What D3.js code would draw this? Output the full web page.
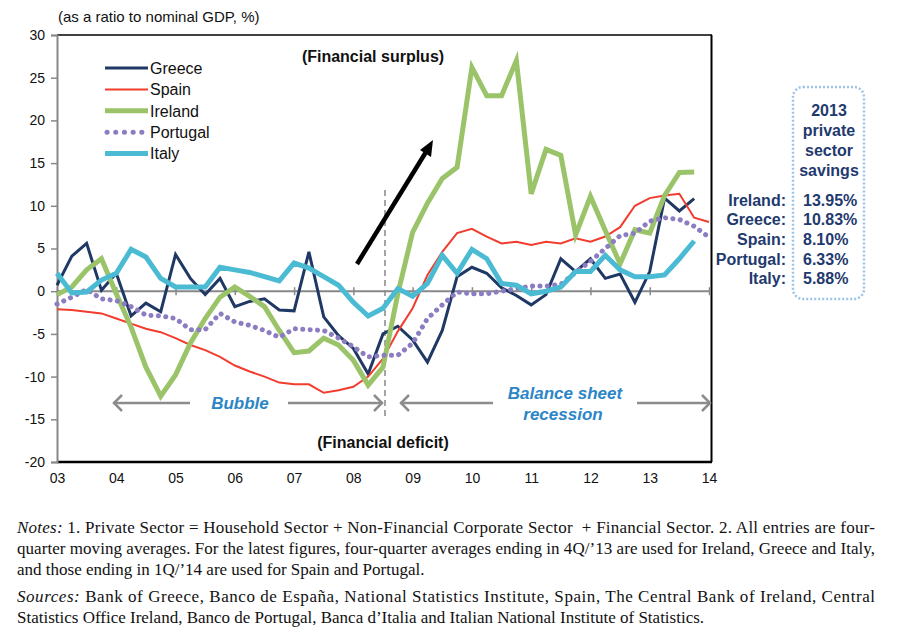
<!DOCTYPE html>
<html>
<head>
<meta charset="utf-8">
<script src="https://cdn.jsdelivr.net/npm/d3@7"></script>
<style>
  body { margin: 0; background: #fff; }
  svg text { font-family: Arial, "Liberation Sans", sans-serif; }
</style>
</head>
<body>
<svg id="chart" width="909" height="640"></svg>
<script>
// quarterly private sector financial balance, % of GDP, from 2003Q1
const greece   = [0.7,4.1,5.6,0.1,2.1,-2.9,-1.4,-2.4,4.3,1.5,-0.4,1.5,-1.8,-1.2,-0.9,-2.2,-2.3,4.6,-3.0,-5.2,-6.7,-9.7,-5.0,-4.1,-5.7,-8.3,-4.6,1.7,2.8,2.1,0.4,-0.5,-1.6,-0.4,3.8,2.3,3.8,1.5,2.0,-1.3,2.3,10.9,9.4,10.83];
const spain    = [-2.1,-2.2,-2.4,-2.6,-3.2,-3.8,-4.4,-4.8,-5.5,-6.3,-6.9,-7.7,-8.7,-9.4,-10.0,-10.7,-10.9,-10.9,-11.9,-11.6,-11.2,-10.0,-7.9,-4.7,-2.0,1.9,4.6,6.8,7.3,6.4,5.6,5.8,5.4,5.8,5.6,6.2,5.8,6.4,7.5,10.0,10.9,11.2,11.4,8.6,8.1];
const ireland  = [-0.4,0.5,2.5,3.8,-0.3,-4.2,-8.9,-12.3,-9.8,-6.1,-3.2,-0.7,0.5,-0.6,-1.8,-4.6,-7.2,-7.0,-5.5,-6.3,-8.1,-11.0,-8.9,-0.3,6.9,10.3,13.2,14.5,26.2,22.9,22.9,27.0,11.4,16.6,15.9,6.6,11.1,7.1,3.2,7.2,6.8,11.2,13.9,13.95];
const portugal = [-1.5,-0.7,0.2,-0.9,-1.1,-1.8,-2.8,-2.9,-3.2,-4.5,-4.5,-2.6,-3.6,-4.0,-4.6,-5.4,-4.4,-4.5,-4.6,-5.5,-6.5,-7.7,-7.5,-7.5,-6.1,-3.2,-1.6,-0.1,-0.3,-0.3,0.0,0.3,0.6,0.6,0.8,2.2,3.5,5.0,6.5,6.8,8.2,8.6,8.4,7.6,6.33];
const italy    = [2.1,-0.2,-0.1,1.3,2.1,4.9,4.0,1.5,0.5,0.5,0.5,2.8,2.5,2.2,1.7,1.2,3.3,2.7,1.7,0.7,-1.3,-2.9,-2.0,0.3,-0.6,0.9,4.2,2.1,4.9,3.8,0.9,0.7,-0.3,0.0,0.5,2.3,2.3,4.2,2.5,1.7,1.7,1.9,3.8,5.88];

const startYear = 2003;
const yearTicks = [2003,2004,2005,2006,2007,2008,2009,2010,2011,2012,2013,2014];
const yTicks = [-20,-15,-10,-5,0,5,10,15,20,25,30];
const lehmanYear = 2008.5;

const boxHeader = ["2013", "private", "sector", "savings"];
const boxNames  = ["Ireland:", "Greece:", "Spain:", "Portugal:", "Italy:"];
const boxValues = ["13.95%", "10.83%", "8.10%", "6.33%", "5.88%"];

const series = [
  { name: "Greece",   values: greece,   color: "#1f3864", width: 3 },
  { name: "Spain",    values: spain,    color: "#f23c2e", width: 2 },
  { name: "Ireland",  values: ireland,  color: "#9bc46a", width: 5 },
  { name: "Portugal", values: portugal, color: "#8c7cc2", width: 5, dots: true },
  { name: "Italy",    values: italy,    color: "#4bbbd4", width: 5 }
];

const svg = d3.select("#chart");

const x = d3.scaleLinear().domain([2003, 2014]).range([57, 709]);
const y = d3.scaleLinear().domain([-20, 30]).range([462, 35]);

// title
svg.append("text").attr("x", 58).attr("y", 22)
  .attr("font-size", 15).attr("fill", "#111")
  .text("(as a ratio to nominal GDP, %)");

// frame: top + right black, bottom thick black
svg.append("line").attr("x1", 57).attr("x2", 712).attr("y1", 35).attr("y2", 35)
  .attr("stroke", "#000").attr("stroke-width", 1.5);
svg.append("line").attr("x1", 711.5).attr("x2", 711.5).attr("y1", 35).attr("y2", 462)
  .attr("stroke", "#000").attr("stroke-width", 2);
svg.append("line").attr("x1", 57).attr("x2", 712).attr("y1", 462).attr("y2", 462)
  .attr("stroke", "#000").attr("stroke-width", 2.5);

// y axis
const yAxis = svg.append("g").attr("transform", "translate(57,0)")
  .call(d3.axisLeft(y).tickValues(yTicks).tickSize(6).tickPadding(6)
    .tickFormat(d => String(d)));
yAxis.select(".domain").attr("stroke", "#888").attr("stroke-width", 2);
yAxis.selectAll(".tick line").attr("stroke", "#888").attr("stroke-width", 1.5);
yAxis.selectAll(".tick text").attr("font-size", 14).attr("fill", "#111")
  .attr("font-family", "Arial, 'Liberation Sans', sans-serif");

// zero line with year ticks crossing it
const zeroAxis = svg.append("g").attr("transform", "translate(0," + (y(0) - 4) + ")")
  .call(d3.axisBottom(x).tickValues(yearTicks).tickSize(8).tickFormat(""));
zeroAxis.select(".domain").remove();
zeroAxis.selectAll(".tick line").attr("stroke", "#888").attr("stroke-width", 1.5);
svg.append("line").attr("x1", x(2003)).attr("x2", x(2014)).attr("y1", y(0)).attr("y2", y(0))
  .attr("stroke", "#888").attr("stroke-width", 2);

// year labels below chart
const xLabels = svg.append("g").attr("transform", "translate(0,462)")
  .call(d3.axisBottom(x).tickValues(yearTicks).tickSize(0).tickPadding(11)
    .tickFormat(d => String(d).slice(2)));
xLabels.select(".domain").remove();
xLabels.selectAll(".tick text").attr("font-size", 14).attr("fill", "#111")
  .attr("font-family", "Arial, 'Liberation Sans', sans-serif");

// Lehman dashed line
svg.append("line").attr("x1", x(lehmanYear) + 2).attr("x2", x(lehmanYear) + 2)
  .attr("y1", 190).attr("y2", 418)
  .attr("stroke", "#888").attr("stroke-width", 1.5).attr("stroke-dasharray", "6,4");

// series lines
const line = d3.line()
  .x((d, i) => x(startYear + i / 4))
  .y(d => y(d));

series.forEach(s => {
  const p = svg.append("path").datum(s.values)
    .attr("d", line)
    .attr("fill", "none")
    .attr("stroke", s.color)
    .attr("stroke-width", s.width)
    .attr("stroke-linejoin", "miter");
  if (s.dots) {
    p.attr("stroke-dasharray", "0.1,7.3").attr("stroke-linecap", "round");
  }
});

// legend
const legend = svg.append("g");
series.forEach((s, i) => {
  const ly = 68 + i * 21.4;
  const l = legend.append("line")
    .attr("x1", s.dots ? 107 : 105).attr("x2", s.dots ? 142 : 148)
    .attr("y1", ly).attr("y2", ly)
    .attr("stroke", s.color).attr("stroke-width", s.width);
  if (s.dots) l.attr("stroke-dasharray", "0.1,8.6").attr("stroke-linecap", "round");
  legend.append("text").attr("x", 150).attr("y", ly).attr("dy", "0.36em")
    .attr("font-size", 16).attr("fill", "#111").text(s.name);
});

// surplus / deficit labels
svg.append("text").attr("x", 373).attr("y", 62).attr("text-anchor", "middle")
  .attr("font-size", 16).attr("font-weight", "bold").attr("fill", "#111")
  .text("(Financial surplus)");
svg.append("text").attr("x", 383).attr("y", 448).attr("text-anchor", "middle")
  .attr("font-size", 16).attr("font-weight", "bold").attr("fill", "#111")
  .text("(Financial deficit)");

// black upward arrow
svg.append("line").attr("x1", 357).attr("y1", 264).attr("x2", 426).attr("y2", 152)
  .attr("stroke", "#000").attr("stroke-width", 4.5);
svg.append("polygon").attr("points", "433,140 420,150 431,157").attr("fill", "#000");

// grey phase arrows
function phaseArrow(x1, x2, gapL, gapR, yy) {
  const g = svg.append("g").attr("stroke", "#8c8c8c").attr("stroke-width", 2.5).attr("fill", "none");
  g.append("line").attr("x1", x1).attr("x2", gapL).attr("y1", yy).attr("y2", yy);
  g.append("line").attr("x1", gapR).attr("x2", x2).attr("y1", yy).attr("y2", yy);
  g.append("polyline").attr("points", `${x1 + 9},${yy - 8} ${x1 + 1},${yy} ${x1 + 9},${yy + 8}`);
  g.append("polyline").attr("points", `${x2 - 9},${yy - 8} ${x2 - 1},${yy} ${x2 - 9},${yy + 8}`);
}
phaseArrow(113, 383, 190, 288, 403);
phaseArrow(400, 711, 493, 637, 403);

const blue = "#2c85c6";
svg.append("text").attr("x", 240).attr("y", 409).attr("text-anchor", "middle")
  .attr("font-size", 17).attr("font-weight", "bold").attr("font-style", "italic")
  .attr("fill", blue).text("Bubble");
svg.append("text").attr("x", 565).attr("y", 399).attr("text-anchor", "middle")
  .attr("font-size", 17).attr("font-weight", "bold").attr("font-style", "italic")
  .attr("fill", blue).text("Balance sheet");
svg.append("text").attr("x", 563).attr("y", 420).attr("text-anchor", "middle")
  .attr("font-size", 17).attr("font-weight", "bold").attr("font-style", "italic")
  .attr("fill", blue).text("recession");

// right-hand savings box
const navy = "#1f3a6e";
svg.append("rect").attr("x", 793).attr("y", 87).attr("width", 71).attr("height", 212)
  .attr("rx", 10).attr("fill", "none").attr("stroke", "#9dc3e6")
  .attr("stroke-width", 2.5).attr("stroke-dasharray", "2,2");
boxHeader.forEach((t, i) => {
  svg.append("text").attr("x", 829).attr("y", 110 + i * 20).attr("dy", "0.36em")
    .attr("text-anchor", "middle").attr("font-size", 16).attr("font-weight", "bold")
    .attr("fill", navy).text(t);
});
boxNames.forEach((t, i) => {
  const yy = 200 + i * 19.6;
  svg.append("text").attr("x", 786).attr("y", yy).attr("dy", "0.36em")
    .attr("text-anchor", "end").attr("font-size", 16).attr("font-weight", "bold")
    .attr("fill", navy).text(t);
  svg.append("text").attr("x", 803).attr("y", yy).attr("dy", "0.36em")
    .attr("font-size", 16).attr("font-weight", "bold")
    .attr("fill", navy).text(boxValues[i]);
});

// notes and sources (serif, justified)
const notes = [
  { lead: "Notes:", text: " 1. Private Sector = Household Sector + Non-Financial Corporate Sector  + Financial Sector. 2. All entries are four-", y: 533, justify: true },
  { lead: "", text: "quarter moving averages. For the latest figures, four-quarter averages ending in 4Q/\u201913 are used for Ireland, Greece and Italy,", y: 554, justify: true },
  { lead: "", text: "and those ending in 1Q/\u201914 are used for Spain and Portugal.", y: 575, justify: false },
  { lead: "Sources:", text: " Bank of Greece, Banco de Espa\u00f1a, National Statistics Institute, Spain, The Central Bank of Ireland, Central", y: 602, justify: true },
  { lead: "", text: "Statistics Office Ireland, Banco de Portugal, Banca d\u2019Italia and Italian National Institute of Statistics.", y: 623, justify: false }
];
notes.forEach(n => {
  const t = svg.append("text").attr("x", 17).attr("y", n.y)
    .attr("font-size", 17).attr("fill", "#111")
    .style("font-family", "'Liberation Serif', 'Times New Roman', serif")
    .attr("xml:space", "preserve");
  if (n.lead) t.append("tspan").attr("font-style", "italic").text(n.lead);
  t.append("tspan").text(n.text);
  if (n.justify) t.attr("textLength", 858).attr("lengthAdjust", "spacing");
});
</script>
</body>
</html>
